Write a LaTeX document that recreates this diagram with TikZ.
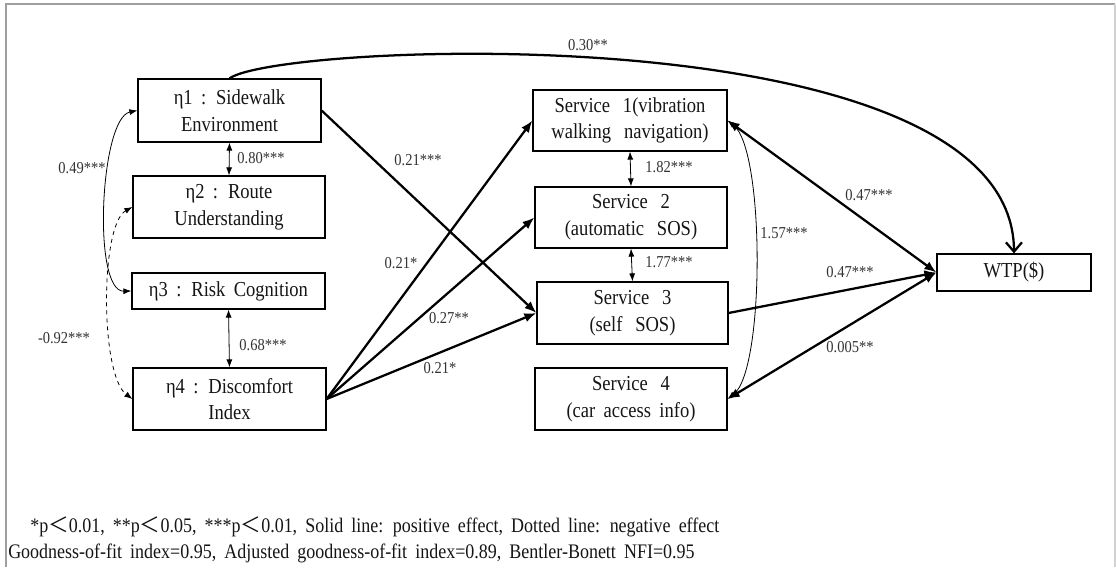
\documentclass[tikz,border=0pt]{standalone}
\usepackage{fontspec}
\setmainfont{Liberation Serif}[FakeStretch=0.87, WordSpace=1.8]
\newfontfamily\cjk{Noto Sans CJK SC}
\usetikzlibrary{arrows.meta}
\definecolor{txt}{HTML}{151515}
\definecolor{lbl}{HTML}{333333}
\newcommand{\wsp}{\hskip 0.6em\relax}
\tikzset{
  box/.style={draw=black, line width=0.9pt, inner sep=0pt, align=center, text=txt,
    font=\fontsize{16}{20}\selectfont},
  lab/.style={text=lbl, inner sep=0pt, font=\fontsize{12.5}{14}\selectfont},
  path/.style={line width=1.7pt, -{Latex[length=9pt,width=7pt]}},
  bipath/.style={line width=1.7pt, {Latex[length=9pt,width=7pt]}-{Latex[length=9pt,width=7pt]}},
  corr/.style={line width=0.6pt, {Latex[length=6pt,width=4.5pt]}-{Latex[length=6pt,width=4.5pt]}},
  note/.style={anchor=west, inner sep=0pt, text=txt, font=\fontsize{15.5}{18}\selectfont}
}
\begin{document}
\begin{tikzpicture}[x=0.75pt, y=-0.75pt]
\useasboundingbox (0,0) rectangle (1116,567);
% frame
\draw[line width=1.1pt, gray!75] (6,567) -- (6,4) -- (1115,4);
\draw[line width=1.1pt, gray!35] (1115,4) -- (1115,567);

% boxes
\node[box, minimum width=137.25pt, minimum height=47.25pt] (e1) at (229.5,110.5) {η1 : Sidewalk\\Environment};
\node[box, minimum width=144pt, minimum height=46.5pt] (e2) at (229,207) {η2 : Route\\Understanding};
\node[box, minimum width=144.75pt, minimum height=27pt] (e3) at (228.5,291) {η3 : Risk Cognition};
\node[box, minimum width=144.75pt, minimum height=46.5pt] (e4) at (229.5,399) {η4 : Discomfort\\Index};
\node[box, minimum width=145.5pt, minimum height=45.75pt] (s1) at (630,120.5) {Service\wsp 1(vibration\\walking\wsp navigation)};
\node[box, minimum width=144pt, minimum height=45.75pt] (s2) at (631,217.5) {Service\wsp 2\\(automatic\wsp SOS)};
\node[box, minimum width=143.25pt, minimum height=46.5pt] (s3) at (632.5,313) {Service\wsp 3\\(self\wsp SOS)};
\node[box, minimum width=144pt, minimum height=46.5pt] (s4) at (631,399) {Service\wsp 4\\(car access info)};
\node[box, minimum width=115.5pt, minimum height=27.75pt] (wtp) at (1014,272.5) {WTP(\$)};

% paths
\draw[line width=1.7pt, -{Straight Barb[length=7pt,width=12pt]}] (e1.north) .. controls (280,42) and (1013,12) .. (wtp.north);
\draw[path] (e1.east) -- (s3.west);
\draw[path] (e4.east) -- (s1.west);
\draw[path] (e4.east) -- (s2.west);
\draw[path] (e4.east) -- (s3.west);
\draw[bipath] (s1.east) -- (wtp.west);
\draw[path] (s3.east) -- (wtp.west);
\draw[bipath] (s4.east) -- (wtp.west);

% correlations
\draw[corr] (e1.south) -- (e2.north);
\draw[corr] (e3.south) -- (e4.north);
\draw[corr] (s1.south) -- (s2.north);
\draw[corr] (s2.south) -- (s3.north);
\draw[corr] (e1.west) .. controls (100,118) and (92,292) .. (e3.west);
\draw[corr, dashed] (e2.west) .. controls (100,225) and (100,375) .. (e4.west);
\draw[corr] (s1.east) .. controls (765,150) and (765,370) .. (s4.east);

% labels
\node[lab] (l30) at (588,45) {0.30**};
\node[lab] (l80) at (261,158) {0.80***};
\node[lab] (l49) at (82,168) {0.49***};
\node[lab] (l92) at (64,338) {-0.92***};
\node[lab] (l68) at (263,345) {0.68***};
\node[lab] (l21a) at (418,160) {0.21***};
\node[lab] (l21b) at (401,263) {0.21*};
\node[lab] (l27) at (449,318) {0.27**};
\node[lab] (l21c) at (440,368) {0.21*};
\node[lab] (l182) at (669,167) {1.82***};
\node[lab] (l177) at (669,262) {1.77***};
\node[lab] (l157) at (784,233) {1.57***};
\node[lab] (l47a) at (869,195) {0.47***};
\node[lab] (l47b) at (850,272) {0.47***};
\node[lab] (l005) at (850,347) {0.005**};

% notes
\node[note] (n1) at (30,527) {*p{\cjk ＜}0.01, **p{\cjk ＜}0.05, ***p{\cjk ＜}0.01, Solid line: positive effect, Dotted line: negative effect};
\node[note] (n2) at (8,553) {Goodness-of-fit index=0.95, Adjusted goodness-of-fit index=0.89, Bentler-Bonett NFI=0.95};
\end{tikzpicture}
\end{document}
